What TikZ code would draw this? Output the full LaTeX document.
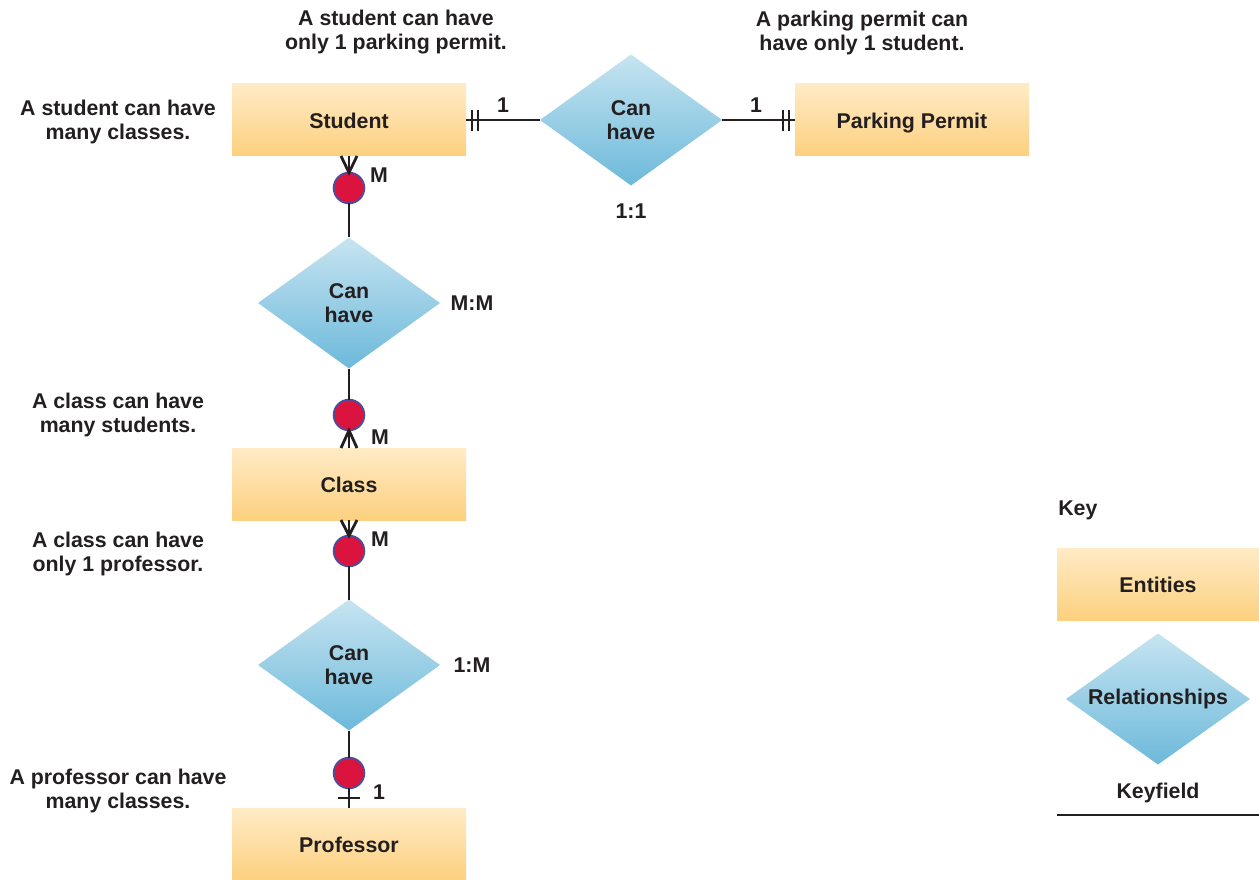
\documentclass[tikz,border=0pt]{standalone}
\usepackage{fontspec}
\setmainfont{Liberation Sans}
\usetikzlibrary{shapes.geometric,calc}
\definecolor{txt}{HTML}{231F20}
\definecolor{enttop}{HTML}{FFEBC6}
\definecolor{entbot}{HTML}{FCD07E}
\definecolor{reltop}{HTML}{C6E4F1}
\definecolor{relbot}{HTML}{6DB9DA}
\definecolor{dotfill}{HTML}{DA143E}
\definecolor{dotline}{HTML}{4B4E9F}
\definecolor{lin}{HTML}{231F20}
\tikzset{
  lbl/.style={font=\fontsize{16}{18}\selectfont\bfseries, text=txt, align=center, inner sep=0},
  entity/.style={lbl, rectangle, top color=enttop, bottom color=entbot, draw=none, outer sep=0, text height=13pt, text depth=0pt, minimum width=175.5pt, minimum height=54pt},
  rel/.style={lbl, diamond, aspect=1.4, inner sep=0, outer sep=0, top color=reltop, bottom color=relbot, draw=none, minimum width=136.5pt, minimum height=98.25pt},
  dot/.style={circle, fill=dotfill, draw=dotline, line width=1.4pt, minimum size=23pt, inner sep=0, outer sep=0},
  conn/.style={draw=lin, line width=2.1pt},
}
\begin{document}
\begin{tikzpicture}[x=0.75pt,y=-0.75pt]
\useasboundingbox (0,0) rectangle (1259,880);

% entities
\node[entity] (stu) at (349,120) {Student};
\node[entity] (pp) at (912,120) {Parking Permit};
\node[entity] (cls) at (349,484) {Class};
\node[entity] (prof) at (349,844) {Professor};

% relationships
\node[rel] (r1) at (631,120) {Can\\have};
\node[rel] (r2) at (349,303) {Can\\have};
\node[rel] (r3) at (349,665) {Can\\have};

% circles
\node[dot] (o1) at (349,188) {};
\node[dot] (o2) at (349,415) {};
\node[dot] (o3) at (349,551) {};
\node[dot] (o4) at (349,773) {};

% top 1:1 connectors
\draw[conn] (stu.east) -- (r1.west);
\draw[conn] (r1.east) -- (pp.west);
\draw[conn] ($(stu.east)+(6,-10)$) -- ($(stu.east)+(6,11)$);
\draw[conn] ($(stu.east)+(12,-10)$) -- ($(stu.east)+(12,11)$);
\draw[conn] ($(pp.west)+(-12,-10)$) -- ($(pp.west)+(-12,11)$);
\draw[conn] ($(pp.west)+(-6,-10)$) -- ($(pp.west)+(-6,11)$);

% student - class
\draw[conn] ($(stu.south)+(-8,0)$) -- (o1.north) -- ($(stu.south)+(8,0)$);
\draw[conn] (stu.south) -- (o1.north);
\draw[conn] (o1.south) -- (r2.north);
\draw[conn] (r2.south) -- (o2.north);
\draw[conn] ($(cls.north)+(-8,0)$) -- (o2.south) -- ($(cls.north)+(8,0)$);
\draw[conn] (cls.north) -- (o2.south);

% class - professor
\draw[conn] ($(cls.south)+(-8,0)$) -- (o3.north) -- ($(cls.south)+(8,0)$);
\draw[conn] (cls.south) -- (o3.north);
\draw[conn] (o3.south) -- (r3.north);
\draw[conn] (r3.south) -- (o4.north);
\draw[conn] (o4.south) -- (prof.north);
\draw[conn] ($(prof.north)+(-11,-10)$) -- ($(prof.north)+(11,-10)$);

% cardinality labels
\node[lbl] (c1) at (503,105) {1};
\node[lbl] (c2) at (756,105) {1};
\node[lbl] (c3) at (631,211) {1:1};
\node[lbl] (c4) at (379,175) {M};
\node[lbl] (c5) at (472,303) {M:M};
\node[lbl] (c6) at (380,437) {M};
\node[lbl] (c7) at (380,539) {M};
\node[lbl] (c8) at (472,665) {1:M};
\node[lbl] (c9) at (379,792) {1};

% annotations
\node[lbl] (a1) at (396,32.5) {A student can have\\only 1 parking permit.};
\node[lbl] (a2) at (862,32.5) {A parking permit can\\have only 1 student.};
\node[lbl] (a3) at (118,121.5) {A student can have\\many classes.};
\node[lbl] (a4) at (118,414.5) {A class can have\\many students.};
\node[lbl] (a5) at (118,553.5) {A class can have\\only 1 professor.};
\node[lbl] (a6) at (118,790.5) {A professor can have\\many classes.};

% key
\node[lbl, anchor=west] (key) at (1058,510) {Key};
\node[entity, minimum width=151.5pt] (kent) at (1158,584) {Entities};
\node[rel, minimum width=138pt] (krel) at (1158,699) {Relationships};
\node[lbl] (kf) at (1158,793) {Keyfield};
\coordinate (kl1) at (1057,815);
\coordinate (kl2) at (1259,815);
\draw[draw=lin, line width=1.7pt] (kl1) -- (kl2);
\end{tikzpicture}
\end{document}
